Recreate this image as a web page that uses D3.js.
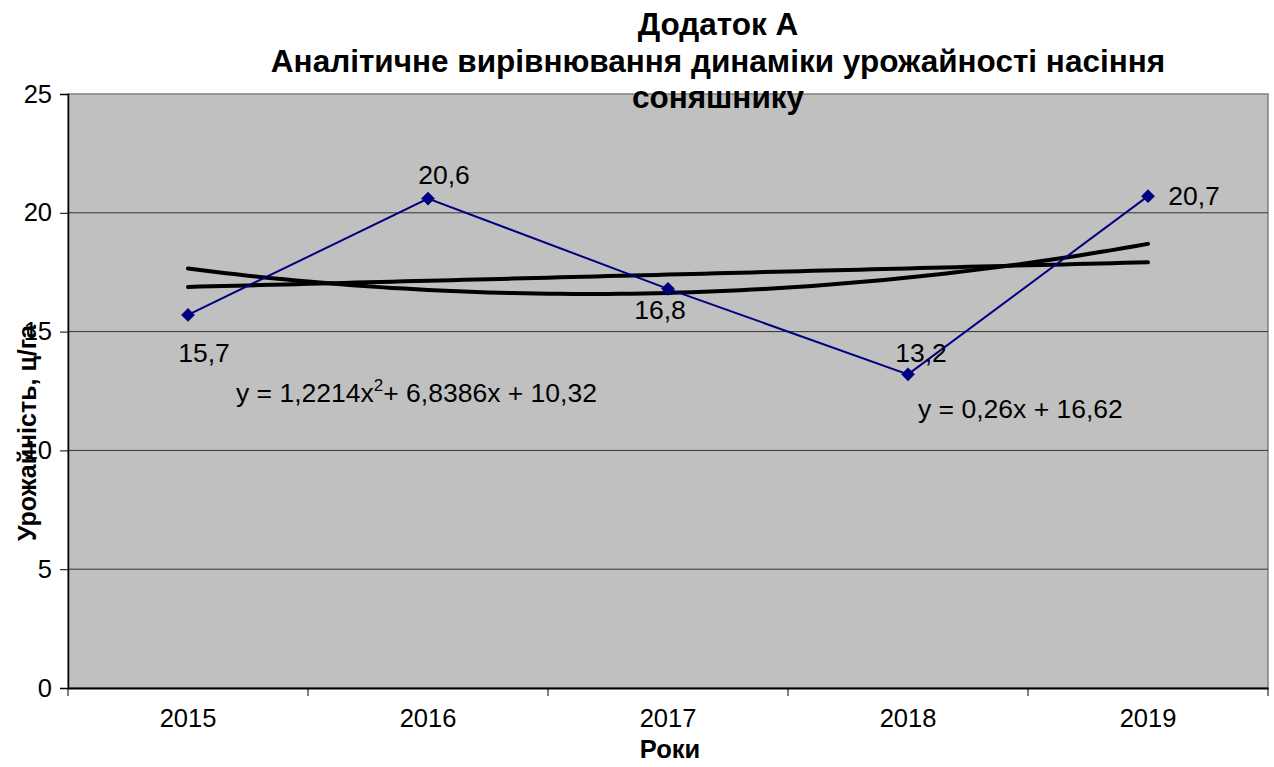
<!DOCTYPE html>
<html>
<head>
<meta charset="utf-8">
<script src="https://cdn.jsdelivr.net/npm/d3@7"></script>
<style>
	body { margin: 0; background: #fff; }
	svg text { font-family: 'Liberation Sans', Arial, sans-serif; fill: #000; }
</style>
</head>
<body>
<svg width="1274" height="767"></svg>
<script>
'use strict';

// Chart data
const years = ['2015', '2016', '2017', '2018', '2019']
const yieldValues = [15.7, 20.6, 16.8, 13.2, 20.7]
const valueLabels = ['15,7', '20,6', '16,8', '13,2', '20,7']
const yTicks = [0, 5, 10, 15, 20, 25]
const titleLines = ['Додаток А', 'Аналітичне вирівнювання динаміки урожайності насіння', 'соняшнику']

// Label placement relative to each point
const labelOffsets = [[16, 47], [16, -15], [-8, 30], [13, -12], [46, 9]]

const svg = d3.select('svg')
const M = { left: 68, right: 1268, top: 94, bottom: 688 }
const FONT = "'Liberation Sans', Arial, sans-serif"

const x = d3.scaleBand().domain(years).range([M.left, M.right])
const y = d3.scaleLinear().domain([0, 25]).range([M.bottom, M.top])
const cx = (i) => x(years[i]) + x.bandwidth() / 2
// continuous x (1..5) to pixel
const xc = d3.scaleLinear().domain([1, 5]).range([cx(0), cx(4)])

// Plot area
svg.append('rect')
	.attr('x', M.left).attr('y', M.top)
	.attr('width', M.right - M.left).attr('height', M.bottom - M.top)
	.attr('fill', '#c0c0c0').attr('stroke', '#808080').attr('stroke-width', 1.5)

// Gridlines
svg.append('g').selectAll('line').data(yTicks.filter((d) => d > 0 && d < 25))
	.enter().append('line')
	.attr('x1', M.left).attr('x2', M.right)
	.attr('y1', (d) => y(d)).attr('y2', (d) => y(d))
	.attr('stroke', '#333').attr('stroke-width', 1)

// Y axis
const yAxis = svg.append('g').attr('transform', `translate(${M.left},0)`)
	.call(d3.axisLeft(y).tickValues(yTicks).tickSize(8).tickPadding(8))
yAxis.select('.domain').attr('stroke', '#000').attr('stroke-width', 1.5)
yAxis.selectAll('.tick line').attr('stroke', '#000')
yAxis.selectAll('text').attr('font-size', 25.5).style('font-family', FONT)

// X axis
const xAxis = svg.append('g').attr('transform', `translate(0,${M.bottom})`)
	.call(d3.axisBottom(x).tickSize(0).tickPadding(21))
xAxis.select('.domain').attr('stroke', '#000').attr('stroke-width', 2)
xAxis.selectAll('text').attr('font-size', 25.5).style('font-family', FONT)
svg.append('g').selectAll('line').data(d3.range(years.length + 1))
	.enter().append('line')
	.attr('x1', (i) => M.left + i * x.bandwidth()).attr('x2', (i) => M.left + i * x.bandwidth())
	.attr('y1', M.bottom).attr('y2', M.bottom + 8)
	.attr('stroke', '#000')

// Trendlines (least squares on the series)
const xs = yieldValues.map((d, i) => i + 1)
const mx = d3.mean(xs), my = d3.mean(yieldValues)
const slope = d3.sum(xs, (v, i) => (v - mx) * (yieldValues[i] - my)) / d3.sum(xs, (v) => (v - mx) * (v - mx))
const icpt = my - slope * mx
// quadratic via centered orthogonal terms
const t2m = d3.mean(xs, (v) => (v - mx) ** 2)
const qc = d3.sum(xs, (v, i) => ((v - mx) ** 2 - t2m) * yieldValues[i]) / d3.sum(xs, (v) => ((v - mx) ** 2 - t2m) ** 2)
const quad = (v) => my + slope * (v - mx) + qc * ((v - mx) ** 2 - t2m)

const line = d3.line().x((d) => xc(d[0])).y((d) => y(d[1]))
const samples = d3.range(1, 5.001, 0.05)
svg.append('path').datum(samples.map((v) => [v, icpt + slope * v]))
	.attr('d', line).attr('fill', 'none').attr('stroke', '#000').attr('stroke-width', 4).attr('stroke-linecap', 'round')
svg.append('path').datum(samples.map((v) => [v, quad(v)]))
	.attr('d', line).attr('fill', 'none').attr('stroke', '#000').attr('stroke-width', 4).attr('stroke-linecap', 'round')

// Series
svg.append('path').datum(yieldValues)
	.attr('d', d3.line().x((d, i) => cx(i)).y((d) => y(d)))
	.attr('fill', 'none').attr('stroke', '#000080').attr('stroke-width', 2)
svg.append('g').selectAll('path').data(yieldValues)
	.enter().append('path')
	.attr('d', d3.symbol(d3.symbolDiamond2, 120))
	.attr('transform', (d, i) => `translate(${cx(i)},${y(d)})`)
	.attr('fill', '#000080')

// Data labels
svg.append('g').selectAll('text').data(valueLabels)
	.enter().append('text')
	.attr('x', (d, i) => cx(i) + labelOffsets[i][0])
	.attr('y', (d, i) => y(yieldValues[i]) + labelOffsets[i][1])
	.attr('text-anchor', 'middle').attr('font-size', 26.5)
	.text((d) => d)

// Trendline equations
const eq1 = svg.append('text').attr('x', 236).attr('y', 402).attr('font-size', 26.5)
eq1.append('tspan').text('y = 1,2214x')
eq1.append('tspan').attr('font-size', 17).attr('dy', -11).text('2')
eq1.append('tspan').attr('dy', 11).text('+ 6,8386x + 10,32')
svg.append('text').attr('x', 918).attr('y', 418).attr('font-size', 26.5).text('y = 0,26x + 16,62')

// Title
svg.append('g').selectAll('text').data(titleLines)
	.enter().append('text')
	.attr('x', 718).attr('y', (d, i) => 35 + i * 36.5)
	.attr('text-anchor', 'middle').attr('font-size', 31.5).attr('font-weight', 'bold')
	.text((d) => d)

// Axis titles
svg.append('text').attr('x', 670).attr('y', 758)
	.attr('text-anchor', 'middle').attr('font-size', 25.5).attr('font-weight', 'bold').text('Роки')
svg.append('text').attr('transform', 'translate(36,433) rotate(-90)')
	.attr('text-anchor', 'middle').attr('font-size', 25).attr('font-weight', 'bold').text('Урожайність, ц/га')
</script>
</body>
</html>
